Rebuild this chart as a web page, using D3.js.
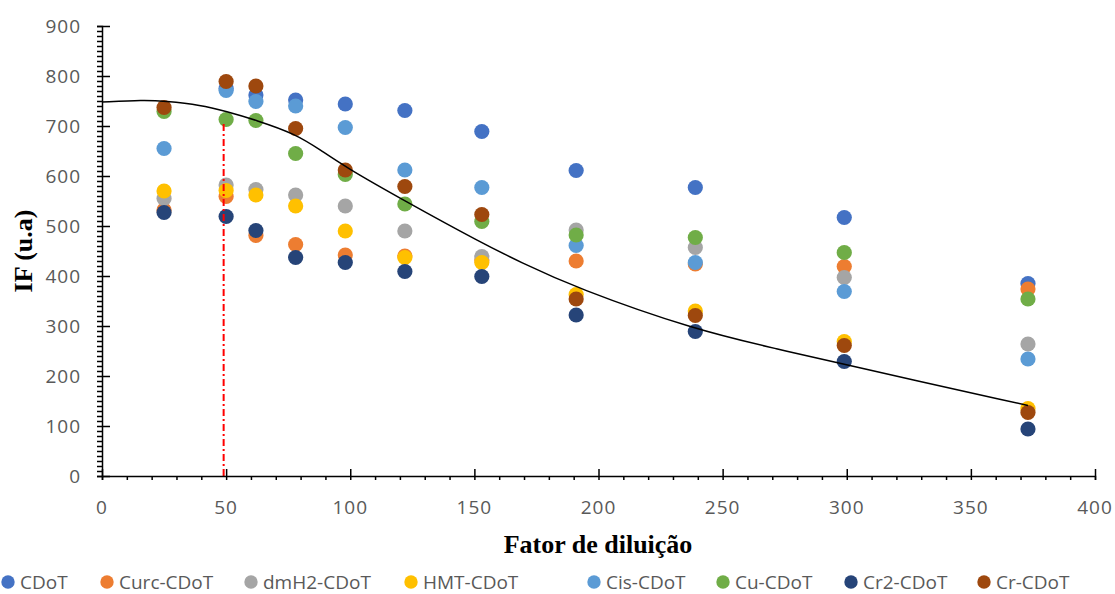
<!DOCTYPE html>
<meta charset="utf-8">
<style>
body { margin: 0; background: #fff; }
.tick-label { font: 19px "Open Sans", sans-serif; fill: #595959; letter-spacing: 1px; }
.legend text { font: 19px "Open Sans", sans-serif; fill: #595959; }
.title { font: bold 26px "Liberation Serif", "Times New Roman", serif; fill: #000; }
</style>
<svg width="1115" height="594"></svg>
<script src="https://d3js.org/d3.v7.min.js"></script>
<script>

// dilution factors (x) shared by all series
var dilution = [25, 50, 62, 78, 98, 122, 153, 191, 239, 299, 373];

var cdot  = [null, 775, 762, 752, 744, 731, 689, 611, 577, 517, 385];
var curc  = [532, 559, 481, 463, 442, 440, 432, 430, 424, 419, 374];
var dmh2  = [555, 582, 573, 562, 540, 490, 439, 492, 457, 397, 264];
var hmt   = [570, 571, 562, 540, 490, 437, 427, 363, 330, 269, 135];
var cis   = [655, 771, 749, 740, 697, 612, 577, 461, 427, 369, 234];
var cu    = [729, 713, 711, 645, 603, 544, 509, 482, 477, 447, 354];
var cr2   = [527, 519, 491, 437, 427, 409, 399, 322, 289, 229, 94];
var cr    = [737, 789, 780, 695, 612, 579, 523, 354, 321, 261, 127];

var seriesNames = ["CDoT", "Curc-CDoT", "dmH2-CDoT", "HMT-CDoT", "Cis-CDoT", "Cu-CDoT", "Cr2-CDoT", "Cr-CDoT"];
var seriesValues = [cdot, curc, dmh2, hmt, cis, cu, cr2, cr];
var seriesColors = ["#4472C4", "#ED7D31", "#A5A5A5", "#FFC000", "#5B9BD5", "#70AD47", "#264478", "#9E480E"];

// trend line
var trendX = [0, 17, 25, 40, 50, 62, 78, 88, 98, 122, 153, 168, 191, 239, 273, 299, 373];
var trendY = [748, 752, 750, 742, 729, 712, 684, 652, 618, 550, 466, 429, 376, 292, 253, 223, 141];

var markerX = 49, markerTop = 705;

var xTicks = [0, 50, 100, 150, 200, 250, 300, 350, 400];
var yTicks = [0, 100, 200, 300, 400, 500, 600, 700, 800, 900];

var svg = d3.select("svg");

var x = d3.scaleLinear().domain([0, 400]).range([102, 1095]);
var y = d3.scaleLinear().domain([0, 900]).range([476, 26]);

// points
seriesValues.forEach(function(vals, i) {
  svg.append("g")
    .selectAll("circle")
    .data(dilution.map(function(d, j) { return [d, vals[j]]; }).filter(function(p) { return p[1] != null; }))
    .enter().append("circle")
      .attr("cx", function(d) { return x(d[0]); })
      .attr("cy", function(d) { return y(d[1]); })
      .attr("r", 7.6)
      .attr("fill", seriesColors[i]);
});

// trend curve
var line = d3.line()
    .x(function(d) { return x(d[0]); })
    .y(function(d) { return y(d[1]); })
    .curve(d3.curveBasis);

svg.append("path")
    .datum(trendX.map(function(d, i) { return [d, trendY[i]]; }))
    .attr("d", line)
    .attr("fill", "none")
    .attr("stroke", "#000")
    .attr("stroke-width", 1.5);

// red dash-dot marker
svg.append("line")
    .attr("x1", x(markerX)).attr("x2", x(markerX))
    .attr("y1", y(0)).attr("y2", y(markerTop))
    .attr("stroke", "#FF0000")
    .attr("stroke-width", 2)
    .attr("stroke-dasharray", "7,3,2,3");

// axes
var xAxis = d3.axisBottom(x).tickValues(d3.range(0, 401, 10)).tickSize(4).tickFormat("");
var yAxis = d3.axisLeft(y).tickValues(d3.range(0, 901, 10)).tickSize(5).tickFormat("");

var gx = svg.append("g").attr("transform", "translate(0," + y(0) + ")").call(xAxis);
var gy = svg.append("g").attr("transform", "translate(" + x(0) + ",0)").call(yAxis);
[gx, gy].forEach(function(g) {
  g.select(".domain").attr("stroke", "#000").attr("stroke-width", 1.5);
  g.selectAll(".tick line").attr("stroke", "#000").attr("stroke-width", 1.5);
});
// major ticks cross the axis
gx.selectAll(".tick line").filter(function(d) { return d % 50 === 0; }).attr("y1", -7);
gy.selectAll(".tick line").filter(function(d) { return d % 100 === 0; }).attr("x1", 8);

svg.append("g").selectAll("text")
  .data(xTicks).enter().append("text")
    .attr("class", "tick-label")
    .attr("x", function(d) { return x(d); })
    .attr("y", 514)
    .attr("text-anchor", "middle")
    .text(function(d) { return d; });

svg.append("g").selectAll("text")
  .data(yTicks).enter().append("text")
    .attr("class", "tick-label")
    .attr("x", 81)
    .attr("y", function(d) { return y(d) + 7; })
    .attr("text-anchor", "end")
    .text(function(d) { return d; });

// titles
svg.append("text").attr("class", "title")
    .attr("x", 598).attr("y", 553)
    .attr("text-anchor", "middle")
    .text("Fator de diluição");

svg.append("text").attr("class", "title")
    .attr("transform", "translate(32,251) rotate(-90)")
    .attr("text-anchor", "middle")
    .text("IF (u.a)");

// legend
var legendX = [8, 107, 251, 411, 594, 723, 851, 984];
var legend = svg.append("g").attr("class", "legend")
  .selectAll("g").data(seriesNames).enter().append("g")
    .attr("transform", function(d, i) { return "translate(" + legendX[i] + ",582)"; });
legend.append("circle").attr("r", 6.7).attr("fill", function(d, i) { return seriesColors[i]; });
legend.append("text").attr("x", 12).attr("y", 7).text(function(d) { return d; });

</script>
